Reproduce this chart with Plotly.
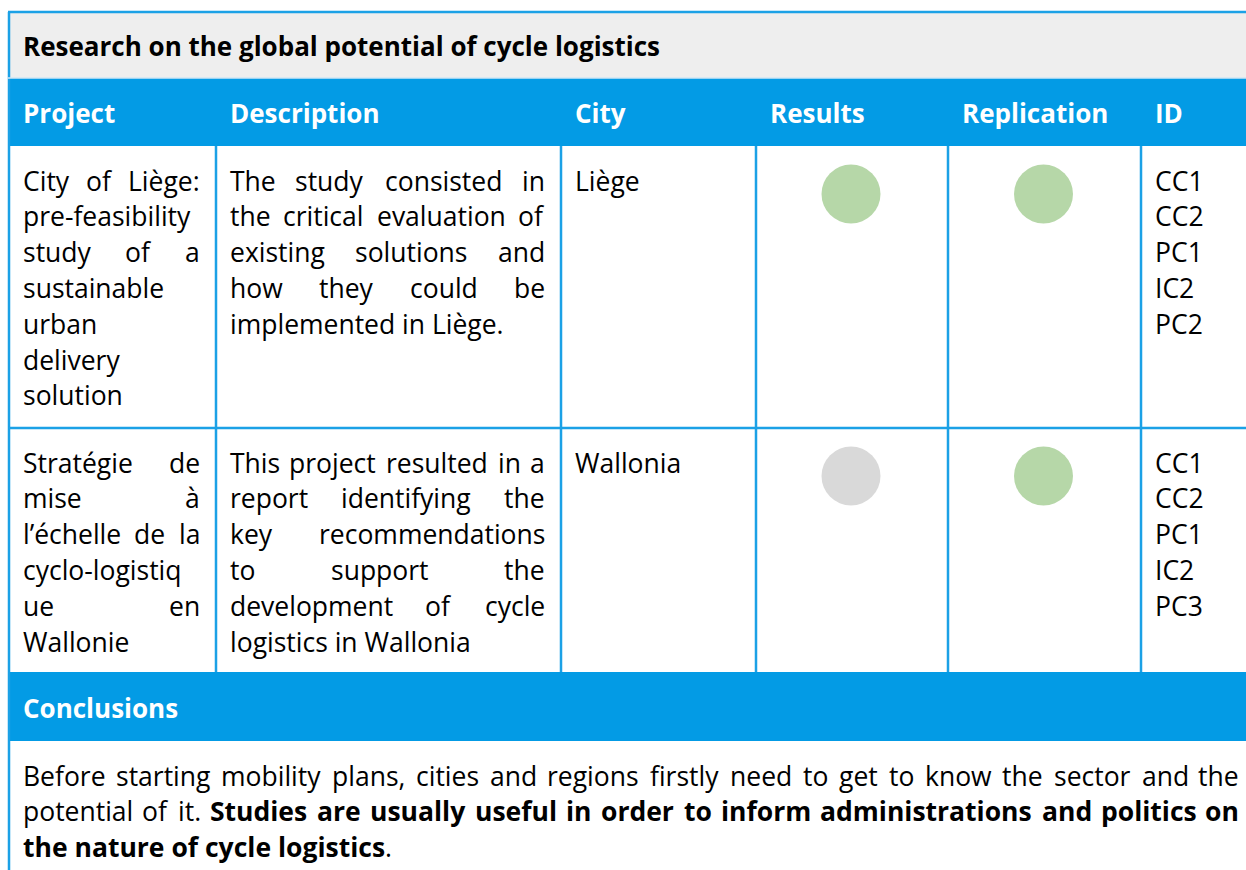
import plotly.graph_objects as go

# ---------------- data ----------------
TITLE = "Research on the global potential of cycle logistics"
HEADERS = ["Project", "Description", "City", "Results", "Replication", "ID"]
PROJECT_LINES = [
    ["City of Liège:", "pre-feasibility", "study of a", "sustainable", "urban", "delivery", "solution"],
    ["Stratégie de", "mise à", "l’échelle de la", "cyclo-logistiq", "ue en", "Wallonie"],
]
DESCRIPTION_LINES = [
    ["The study consisted in", "the critical evaluation of", "existing solutions and",
     "how they could be", "implemented in Liège."],
    ["This project resulted in a", "report identifying the", "key recommendations",
     "to support the", "development of cycle", "logistics in Wallonia"],
]
CITIES = ["Liège", "Wallonia"]
RESULTS = ["positive", "neutral"]
REPLICATION = ["positive", "positive"]
IDS = [["CC1", "CC2", "PC1", "IC2", "PC2"], ["CC1", "CC2", "PC1", "IC2", "PC3"]]
CONCLUSION_HEADER = "Conclusions"
CONCLUSION_LINES = [
    "Before starting mobility plans, cities and regions firstly need to get to know the sector and the",
    "potential of it. **Studies are usually useful in order to inform administrations and politics on**",
    "**the nature of cycle logistics**.",
]

# ---------------- style / layout ----------------
W, H = 1246, 870
FONT = "Open Sans"
FS = 26.5
TITLE_FS = 26
BLUE = "#039BE5"
LINE_BLUE = "#1BA1E6"
GRAY_BAND = "#EEEEEE"
STATUS_COLOR = {"positive": "#B6D7A8", "neutral": "#D9D9D9"}
TEXT = "#000000"

COL = [8, 215, 560, 755, 947, 1140, 1262]
PAD = 14
Y_TOP = 12
Y_HEAD = 78
ROW_TOPS = [146, 428]
Y_CONC = 672
Y_CONC_BODY = 741
FIRST_OFF = 34.5
LINE_H = 35.8

# rough glyph advance widths (em) for the first placement; refined in the browser
NARROW = set("iljI.,:;'’!|")
WIDE = set("mwMW")


def char_w(c, bold):
    if c == " ":
        w = 0.26
    elif c in NARROW:
        w = 0.26
    elif c in "ftr":
        w = 0.36
    elif c in WIDE:
        w = 0.88
    elif c.isupper():
        w = 0.66
    elif c.isdigit():
        w = 0.57
    elif c == "-":
        w = 0.32
    else:
        w = 0.56
    return w * (1.05 if bold else 1.0)


def text_w(s, bold, size=FS):
    return sum(char_w(c, bold) for c in s) * size


annotations = []


def add_text(x, y, text, size=FS, color=TEXT, anchor="left", name=None):
    a = dict(
        x=x, y=y, xref="x", yref="y", text=text, showarrow=False,
        xanchor=anchor, yanchor="middle", borderpad=0,
        font=dict(family=FONT, size=size, color=color),
    )
    if name:
        a["name"] = name
    annotations.append(a)


def tokenize(line):
    out = []
    bold = False
    for w in line.split(" "):
        if w.startswith("**"):
            bold = True
            w = w[2:]
        if "**" in w:
            pre, post = w.split("**", 1)
            out.append((pre, True, post))
            bold = False
        else:
            out.append((w, bold, ""))
    return out


def tok_html(t):
    w, b, post = t
    return ("<b>%s</b>" % w if b else w) + post


def tok_w(t):
    w, b, post = t
    return text_w(w, b) + text_w(post, False)


group_counter = [0]


def paragraph(lines, x0, x1, ytop):
    for i, line in enumerate(lines):
        y = ytop + FIRST_OFF + i * LINE_H
        toks = tokenize(line)
        last = i == len(lines) - 1
        if last or len(toks) == 1:
            add_text(x0, y, " ".join(tok_html(t) for t in toks))
            continue
        g = group_counter[0]
        group_counter[0] += 1
        widths = [tok_w(t) for t in toks]
        gap = (x1 - x0 - sum(widths)) / (len(toks) - 1)
        x = x0
        for k, t in enumerate(toks):
            nm = "J:%d:%s:%s:%d" % (g, x0, x1, k)
            if k == 0:
                add_text(x0, y, tok_html(t), anchor="left", name=nm)
            elif k == len(toks) - 1:
                add_text(x1, y, tok_html(t), anchor="right", name=nm)
            else:
                add_text(x + widths[k] / 2, y, tok_html(t), anchor="center", name=nm)
            x += widths[k] + gap


shapes = []


def rect(x0, y0, x1, y1, color):
    shapes.append(dict(type="rect", xref="x", yref="y", x0=x0, y0=y0, x1=x1, y1=y1,
                       fillcolor=color, line=dict(width=0), layer="below"))


def line(x0, y0, x1, y1, color=LINE_BLUE, width=2.5):
    shapes.append(dict(type="line", xref="x", yref="y", x0=x0, y0=y0, x1=x1, y1=y1,
                       line=dict(color=color, width=width), layer="above"))


# bands
rect(COL[0], Y_TOP, COL[-1], Y_HEAD, GRAY_BAND)
rect(COL[0], Y_HEAD, COL[-1], ROW_TOPS[0], BLUE)
rect(COL[0], Y_CONC, COL[-1], Y_CONC_BODY, BLUE)

# borders / grid
line(COL[0], Y_TOP, COL[-1], Y_TOP)
line(COL[0] + 1, Y_TOP, COL[0] + 1, H + 5)
line(COL[0], Y_HEAD, COL[-1], Y_HEAD, color="#CFE6F5", width=1.5)
for r in ROW_TOPS[1:]:
    line(COL[0], r, COL[-1], r)
for c in COL[1:-1]:
    line(c + 1, ROW_TOPS[0], c + 1, Y_CONC)

# title
add_text(COL[0] + PAD, (Y_TOP + Y_HEAD) / 2 + 1, "<b>%s</b>" % TITLE, size=TITLE_FS)
# headers
for j, h in enumerate(HEADERS):
    add_text(COL[j] + PAD, (Y_HEAD + ROW_TOPS[0]) / 2 + 1, "<b>%s</b>" % h, color="white", size=TITLE_FS)

# rows
for r in range(2):
    top = ROW_TOPS[r]
    paragraph(PROJECT_LINES[r], COL[0] + PAD, COL[1] - PAD, top)
    paragraph(DESCRIPTION_LINES[r], COL[1] + PAD, COL[2] - PAD, top)
    paragraph([CITIES[r]], COL[2] + PAD, COL[3] - PAD, top)
    paragraph(IDS[r], COL[5] + PAD, COL[6] - PAD, top)

# conclusions
add_text(COL[0] + PAD, (Y_CONC + Y_CONC_BODY) / 2 + 1, "<b>%s</b>" % CONCLUSION_HEADER,
         color="white", size=TITLE_FS)
paragraph(CONCLUSION_LINES, COL[0] + PAD, 1240, Y_CONC_BODY)

fig = go.Figure()
for status in ["positive", "neutral"]:
    xs, ys = [], []
    for r in range(2):
        for col_idx, arr in ((3, RESULTS), (4, REPLICATION)):
            if arr[r] == status:
                xs.append((COL[col_idx] + COL[col_idx + 1]) / 2)
                ys.append(ROW_TOPS[r] + 48)
    fig.add_trace(go.Scatter(x=xs, y=ys, mode="markers", hoverinfo="skip",
                             marker=dict(size=59, color=STATUS_COLOR[status], line=dict(width=0)),
                             showlegend=False))

fig.update_layout(
    width=W, height=H, margin=dict(l=0, r=0, t=0, b=0),
    paper_bgcolor="white", plot_bgcolor="white",
    xaxis=dict(range=[0, W], visible=False, fixedrange=True),
    yaxis=dict(range=[H, 0], visible=False, fixedrange=True),
    shapes=shapes, annotations=annotations,
    font=dict(family=FONT),
)

# In the browser: remove the page margin and justify word groups using real text widths.
POST = """
document.body.style.margin = '0';
document.body.style.padding = '0';
document.body.style.overflow = 'hidden';
var gd = document.getElementById('{plot_id}');
var anns = gd.layout.annotations || [];
var widths = {};
gd.querySelectorAll('g.annotation').forEach(function(el) {
  var idx = +el.getAttribute('data-index');
  var t = el.querySelector('text');
  if (t) { widths[idx] = t.getBBox().width; }
});
var groups = {};
anns.forEach(function(a, i) {
  if (a.name && a.name.indexOf('J:') === 0) {
    var p = a.name.split(':');
    var g = groups[p[1]] || (groups[p[1]] = {x0: +p[2], x1: +p[3], items: []});
    g.items.push({i: i, k: +p[4]});
  }
});
var upd = {};
Object.keys(groups).forEach(function(key) {
  var g = groups[key];
  g.items.sort(function(a, b) { return a.k - b.k; });
  var n = g.items.length;
  var total = 0;
  g.items.forEach(function(it) { total += (widths[it.i] || 0); });
  var gap = (g.x1 - g.x0 - total) / (n - 1);
  var x = g.x0;
  g.items.forEach(function(it, k) {
    var w = widths[it.i] || 0;
    if (k > 0 && k < n - 1) { upd['annotations[' + it.i + '].x'] = x + w / 2; }
    x += w + gap;
  });
});
if (Object.keys(upd).length) { Plotly.relayout(gd, upd); }
"""

fig.write_html("out.html", post_script=POST, config={"displayModeBar": False, "staticPlot": True})
